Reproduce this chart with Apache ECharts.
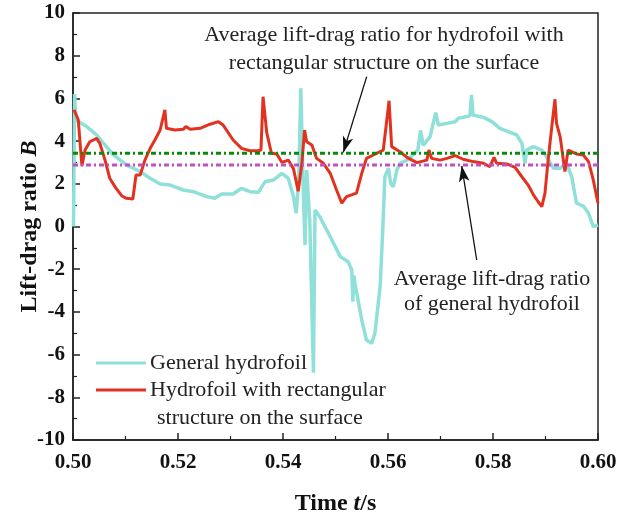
<!DOCTYPE html>
<html lang="en">
<head>
<meta charset="UTF-8">
<script src="https://cdn.jsdelivr.net/npm/echarts@6/dist/echarts.min.js"></script>
<title>Lift-drag ratio</title>
<style>
  html, body { margin: 0; padding: 0; background: #fff; }
  #main { width: 619px; height: 518px; }
</style>
</head>
<body>
<div id="main"></div>
<script>
// time (s) and lift-drag ratio B
var generalT = [0.5001, 0.5003, 0.5005, 0.5008, 0.5026, 0.5045, 0.5058, 0.5077, 0.5102, 0.5128,
  0.5147, 0.5166, 0.5185, 0.5210, 0.5229, 0.5255, 0.5270, 0.5283, 0.5305, 0.5321,
  0.5337, 0.5353, 0.5366, 0.5382, 0.5398, 0.5410, 0.5420, 0.5425, 0.5430, 0.5434,
  0.5438, 0.5442, 0.5445, 0.5451, 0.5458, 0.5461, 0.5470, 0.5490, 0.5509, 0.5524,
  0.5531, 0.5533, 0.5535, 0.5537, 0.5550, 0.5559, 0.5569, 0.5575, 0.5585, 0.5590,
  0.5594, 0.5601, 0.5605, 0.5610, 0.5617, 0.5623, 0.5636, 0.5648, 0.5657, 0.5662,
  0.5667, 0.5680, 0.5691, 0.5696, 0.5712, 0.5728, 0.5734, 0.5756, 0.5759, 0.5762,
  0.5782, 0.5798, 0.5813, 0.5829, 0.5845, 0.5855, 0.5861, 0.5864, 0.5877, 0.5893,
  0.5902, 0.5915, 0.5928, 0.5940, 0.5950, 0.5959, 0.5972, 0.5982, 0.5991, 0.6000];
var generalB = [0.0, 6.2, 5.1, 4.95, 4.68, 4.29, 3.9, 3.35, 2.88, 2.57,
  2.26, 1.99, 1.94, 1.71, 1.63, 1.4, 1.32, 1.52, 1.52, 1.79,
  1.63, 1.6, 2.1, 2.18, 2.49, 2.26, 1.4, 0.62, 2.18, 6.47,
  2.18, -0.87, 2.65, 0.3, -6.85, 0.77, 0.46, -0.48, -1.41, -1.65,
  -2.04, -3.52, -2.3, -2.66, -4.38, -5.32, -5.47, -5.0, -2.82, -0.16,
  2.33, 2.73, 2.02, 1.86, 2.65, 2.96, 3.11, 3.35, 3.6, 4.5,
  3.8, 4.2, 5.33, 4.75, 4.83, 4.91, 5.07, 5.18, 6.16, 5.22,
  5.11, 4.91, 4.6, 4.44, 4.29, 3.9, 2.96, 3.58, 3.74, 3.58,
  3.27, 2.73, 2.73, 2.96, 2.33, 1.09, 0.96, 0.62, -0.01, 0.07];

var rectT = [0.5002, 0.5010, 0.5017, 0.5023, 0.5032, 0.5045, 0.5051, 0.5061, 0.5070, 0.5080,
  0.5093, 0.5102, 0.5114, 0.5116, 0.5120, 0.5128, 0.5137, 0.5147, 0.5156, 0.5166,
  0.5175, 0.5178, 0.5194, 0.5210, 0.5215, 0.5223, 0.5242, 0.5261, 0.5277, 0.5286,
  0.5305, 0.5321, 0.5337, 0.5353, 0.5358, 0.5362, 0.5369, 0.5378, 0.5388, 0.5398,
  0.5410, 0.5420, 0.5429, 0.5436, 0.5441, 0.5445, 0.5455, 0.5464, 0.5477, 0.5490,
  0.5502, 0.5512, 0.5521, 0.5540, 0.5550, 0.5559, 0.5572, 0.5591, 0.5602, 0.5607,
  0.5623, 0.5636, 0.5655, 0.5674, 0.5678, 0.5683, 0.5699, 0.5712, 0.5728, 0.5743,
  0.5762, 0.5782, 0.5794, 0.5802, 0.5807, 0.5826, 0.5842, 0.5855, 0.5867, 0.5877,
  0.5886, 0.5893, 0.5899, 0.5905, 0.5912, 0.5918, 0.5921, 0.5928, 0.5934, 0.5937,
  0.5943, 0.5959, 0.5972, 0.5982, 0.5991, 0.6000];
var rectB = [5.46, 5.0, 2.83, 3.58, 3.97, 4.13, 3.9, 3.11, 2.26, 1.86,
  1.43, 1.32, 1.29, 1.29, 2.41, 2.41, 3.11, 3.66, 4.05, 4.52,
  5.46, 4.6, 4.52, 4.55, 4.68, 4.55, 4.6, 4.79, 4.91, 4.75,
  4.05, 3.66, 3.55, 3.55, 3.58, 6.08, 4.4, 3.43, 3.4, 3.0,
  3.11, 2.7, 1.65, 2.96, 4.52, 3.97, 3.82, 3.19, 2.96, 2.49,
  1.71, 1.09, 1.4, 1.56, 2.49, 3.19, 3.35, 3.58, 5.89, 3.74,
  3.5, 3.24, 2.99, 3.11, 3.58, 3.19, 3.11, 3.19, 3.32, 3.15,
  3.04, 2.96, 2.8, 3.24, 2.96, 2.93, 2.77, 2.33, 1.94, 1.48,
  1.16, 0.93, 1.56, 3.11, 4.68, 5.96, 4.83, 4.2, 3.11, 2.57,
  3.58, 3.4, 3.35, 3.04, 2.18, 1.09];

var avgRect = 3.43;     // average for hydrofoil with rectangular structure
var avgGeneral = 2.88;  // average for general hydrofoil

function pairs(ts, vs) {
  return ts.map(function (t, i) { return [t, vs[i]]; });
}

var serif = "'Liberation Serif', 'Times New Roman', serif";
var chart = echarts.init(document.getElementById('main'));

var titleRich = {
  b: { fontFamily: serif, fontSize: 24, fontWeight: 'bold', color: '#111' },
  i: { fontFamily: serif, fontSize: 24, fontWeight: 'bold', fontStyle: 'italic', color: '#111' }
};

chart.setOption({
  animation: false,
  textStyle: { fontFamily: serif, color: '#111' },
  grid: { left: 73, right: 21, top: 13, bottom: 78, containLabel: false, outerBoundsMode: 'none',
    show: true, borderColor: '#222', borderWidth: 1.5 },
  legend: {
    left: 96, top: 351, orient: 'vertical', padding: 0, itemGap: 3,
    itemWidth: 50, itemHeight: 3, icon: 'rect',
    data: ['General hydrofoil', 'Hydrofoil with rectangular'],
    textStyle: { fontFamily: serif, fontSize: 22, color: '#222', lineHeight: 24, padding: [0, 0, 0, -1] }
  },
  xAxis: {
    type: 'value', min: 0.5, max: 0.6, interval: 0.02,
    name: '{b|Time }{i|t}{b|/s}', nameLocation: 'middle', nameGap: 52, nameMoveOverlap: false,
    nameTextStyle: { rich: titleRich },
    axisLine: { onZero: false, lineStyle: { color: '#222', width: 1.5 } },
    axisTick: { inside: true, length: 7, lineStyle: { color: '#222', width: 1.5 } },
    minorTick: { show: true, splitNumber: 2, length: 4, lineStyle: { color: '#222', width: 1.2 } },
    splitLine: { show: false },
    axisLabel: { margin: 12, fontFamily: serif, fontSize: 21, fontWeight: 'bold', color: '#111',
      formatter: function (v) { return v.toFixed(2); } }
  },
  yAxis: {
    type: 'value', min: -10, max: 10, interval: 2,
    name: '{b|Lift-drag ratio }{i|B}', nameLocation: 'middle', nameGap: 31, nameMoveOverlap: false,
    nameTextStyle: { rich: titleRich },
    axisLine: { onZero: false, lineStyle: { color: '#222', width: 1.5 } },
    axisTick: { inside: true, length: 7, lineStyle: { color: '#222', width: 1.5 } },
    minorTick: { show: true, splitNumber: 2, length: 4, lineStyle: { color: '#222', width: 1.2 } },
    splitLine: { show: false },
    axisLabel: { margin: 8, fontFamily: serif, fontSize: 21, fontWeight: 'bold', color: '#111' }
  },
  series: [
    {
      name: 'General hydrofoil', type: 'line', data: pairs(generalT, generalB),
      showSymbol: false, color: '#8fe0d9',
      lineStyle: { color: '#8fe0d9', width: 3.5 }
    },
    {
      name: 'Hydrofoil with rectangular', type: 'line', data: pairs(rectT, rectB),
      showSymbol: false, color: '#e2321f',
      lineStyle: { color: '#e2321f', width: 3 }
    },
    {
      name: 'avgRect', type: 'line', data: [[0.5, avgRect], [0.6, avgRect]],
      showSymbol: false, silent: true,
      lineStyle: { color: '#0a8a0a', width: 3, type: [5, 3, 2, 3] },
      markLine: {
        silent: true, animation: false, label: { show: false },
        lineStyle: { color: '#111', width: 1.3, type: 'solid' },
        data: [[
          { coord: [0.55594, 7.02], symbol: 'none' },
          { coord: [0.55149, 3.47], symbol: 'arrow', symbolSize: [8, 16] }
        ]]
      }
    },
    {
      name: 'avgGeneral', type: 'line', data: [[0.5, avgGeneral], [0.6, avgGeneral]],
      showSymbol: false, silent: true,
      lineStyle: { color: '#c24fc6', width: 3, type: [5, 3, 2, 3] },
      markLine: {
        silent: true, animation: false, label: { show: false },
        lineStyle: { color: '#111', width: 1.3, type: 'solid' },
        data: [[
          { coord: [0.57690, -1.57], symbol: 'none' },
          { coord: [0.57404, 2.84], symbol: 'arrow', symbolSize: [8, 16] }
        ]]
      }
    }
  ],
  graphic: [
    {
      type: 'text', x: 384, y: 49, silent: true,
      style: { text: 'Average lift-drag ratio for hydrofoil with\nrectangular structure on the surface',
        align: 'center', verticalAlign: 'middle', lineHeight: 28,
        font: '22px ' + serif, fill: '#222' }
    },
    {
      type: 'text', x: 492, y: 292, silent: true,
      style: { text: 'Average lift-drag ratio\nof general hydrofoil',
        align: 'center', verticalAlign: 'middle', lineHeight: 25,
        font: '22px ' + serif, fill: '#222' }
    },
    {
      type: 'text', x: 157, y: 418, silent: true,
      style: { text: 'structure on the surface', align: 'left', verticalAlign: 'middle',
        font: '22px ' + serif, fill: '#222' }
    }
  ]
});
</script>
</body>
</html>
